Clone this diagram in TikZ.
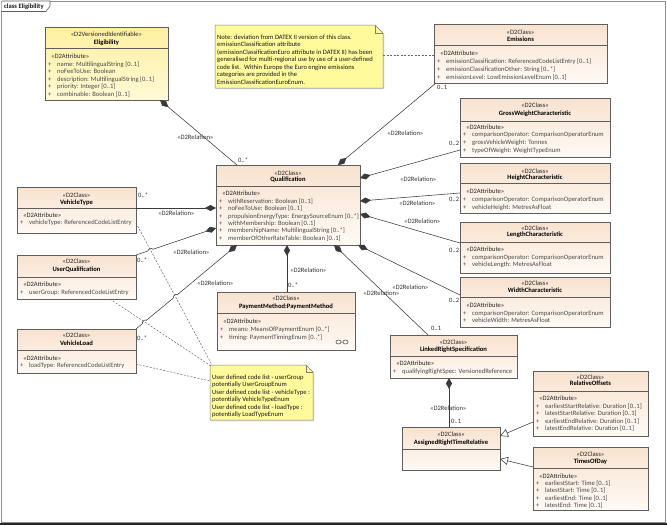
\documentclass[tikz,border=0pt]{standalone}
\usepackage{fontspec}
\setmainfont{Carlito}
\usetikzlibrary{arrows.meta,calc,shadows}
\definecolor{clsTop}{HTML}{F8E2CF}
\definecolor{clsBot}{HTML}{FFFAF5}
\definecolor{eliTop}{HTML}{FFF0A0}
\definecolor{eliBot}{HTML}{FFF9D6}
\definecolor{noteFill}{HTML}{FFFA9C}
\definecolor{bord}{HTML}{5E5E5E}
\definecolor{attrc}{HTML}{4A4A4A}
\definecolor{linec}{HTML}{3A3A3A}
\newcommand\fs{\fontsize{6.6}{7.5}\selectfont}
\tikzset{
  boxbase/.style={draw=bord, line width=0.6pt, inner sep=0pt, outer sep=0pt, anchor=north west,
     drop shadow={shadow xshift=1.3pt, shadow yshift=-1.3pt, opacity=0.22}},
  clsbox/.style={boxbase, top color=clsTop, bottom color=clsBot},
  elibox/.style={boxbase, top color=eliTop, bottom color=eliBot},
  notearea/.style={inner sep=0pt, outer sep=0pt, anchor=north west},
  notefill/.style={draw=bord!80, line width=0.5pt, fill=noteFill},
  sepst/.style={draw=bord, line width=0.5pt},
  attr/.style={anchor=base west, inner sep=0pt, font=\fs, text=attrc},
  stereo/.style={anchor=base, inner sep=0pt, font=\fs, text=black!85},
  ttl/.style={anchor=base, inner sep=0pt, font=\fs\bfseries, text=black},
  lbl/.style={anchor=base west, inner sep=0pt, font=\fs, text=black!80},
  notetext/.style={anchor=base west, inner sep=0pt, font=\fs, text=black!90},
  comp/.style={draw=linec, line width=0.55pt, -{Diamond[length=11pt,width=6pt]}},
  gen/.style={draw=linec, line width=0.55pt, -{Triangle[open,length=8pt,width=8pt,fill=white]}},
  notelink/.style={draw=black!60, line width=0.5pt, dash pattern=on 2pt off 1.5pt},
}
\newcommand\hd[5]{\node[stereo] at (#1,#2+2) {#4};\node[ttl] at (#1,#3+2) {#5};}
\newcommand\sepl[3]{\draw[sepst] (#1,#3) -- (#2,#3);}
\newcommand\ah[2]{\node[attr,text=black!85] at (#1+6,#2+2) {«D2Attribute»};}
\newcommand\al[3]{\node[attr] at (#1+3,#2+2) {+};\node[attr] at (#1+12,#2+2) {#3};}
\newcommand\rl[2]{\node[lbl] at (#1,#2+2) {«D2Relation»};}
\newcommand\ml[3]{\node[lbl] at (#1,#2+2) {#3};}
\begin{document}
\begin{tikzpicture}[x=1pt,y=-1pt]
\useasboundingbox (0,0) rectangle (667,525);
\fill[white] (0,0) rectangle (667,525);
% frame
\draw[bord!70, line width=0.8pt] (1.5,1) rectangle (665.5,522);
\draw[black!85, line width=2.5pt] (0,523.8) -- (667,523.8);
\draw[bord, line width=0.6pt, fill=white] (1.5,1) -- (50,1) -- (50,6) -- (46,11.5) -- (1.5,11.5);
\node[notetext, font=\fs\bfseries] (frametitle) at (4,8.5) {class Eligibility};

% ---------- boxes ----------
% Eligibility
\node[elibox, minimum width=123pt, minimum height=73pt] (el) at (45,27) {};
\hd{106.5}{34}{42}{«D2VersionedIdentifiable»}{Eligibility}
\sepl{45}{168}{48}
\ah{45}{56}
\al{45}{64}{name: MultilingualString [0..1]}
\al{45}{71.5}{noFeeToUse: Boolean}
\al{45}{79}{description: MultilingualString [0..1]}
\al{45}{86.5}{priority: Integer [0..1]}
\al{45}{94}{combinable: Boolean [0..1]}

% Emissions
\node[clsbox, minimum width=173pt, minimum height=59pt] (em) at (434,24) {};
\hd{520.5}{32}{39.5}{«D2Class»}{Emissions}
\sepl{434}{607}{45}
\ah{434}{53}
\al{434}{61}{emissionClassification: ReferencedCodeListEntry [0..1]}
\al{434}{69}{emissionClassificationOther: String [0..*]}
\al{434}{77}{emissionLevel: LowEmissionLevelEnum [0..1]}

% GrossWeightCharacteristic
\node[clsbox, minimum width=150pt, minimum height=59pt] (gw) at (460,98) {};
\hd{535}{105.5}{113}{«D2Class»}{GrossWeightCharacteristic}
\sepl{460}{610}{121}
\ah{460}{127}
\al{460}{134.5}{comparisonOperator: ComparisonOperatorEnum}
\al{460}{142.5}{grossVehicleWeight: Tonnes}
\al{460}{150.5}{typeOfWeight: WeightTypeEnum}

% HeightCharacteristic
\node[clsbox, minimum width=150pt, minimum height=50pt] (ht) at (460,163) {};
\hd{535}{171}{177.5}{«D2Class»}{HeightCharacteristic}
\sepl{460}{610}{183}
\ah{460}{191}
\al{460}{199}{comparisonOperator: ComparisonOperatorEnum}
\al{460}{207}{vehicleHeight: MetresAsFloat}

% LengthCharacteristic
\node[clsbox, minimum width=150pt, minimum height=51pt] (ln) at (460,222) {};
\hd{535}{228}{234.5}{«D2Class»}{LengthCharacteristic}
\sepl{460}{610}{242}
\ah{460}{249}
\al{460}{257}{comparisonOperator: ComparisonOperatorEnum}
\al{460}{264.5}{vehicleLength: MetresAsFloat}

% WidthCharacteristic
\node[clsbox, minimum width=150pt, minimum height=50pt] (wd) at (460,277) {};
\hd{535}{283}{290}{«D2Class»}{WidthCharacteristic}
\sepl{460}{610}{297}
\ah{460}{305}
\al{460}{313}{comparisonOperator: ComparisonOperatorEnum}
\al{460}{320}{vehicleWidth: MetresAsFloat}

% Qualification
\node[clsbox, minimum width=144pt, minimum height=80pt] (q) at (216,165) {};
\hd{288}{173}{179.5}{«D2Class»}{Qualification}
\sepl{216}{360}{186}
\ah{216}{193.5}
\al{216}{201}{withReservation: Boolean [0..1]}
\al{216}{208.5}{noFeeToUse: Boolean [0..1]}
\al{216}{216}{propulsionEnergyType: EnergySourceEnum [0..*]}
\al{216}{223}{withMembership: Boolean [0..1]}
\al{216}{230.5}{membershipName: MultilingualString [0..*]}
\al{216}{238}{memberOfOtherRateTable: Boolean [0..1]}

% VehicleType
\node[clsbox, minimum width=119pt, minimum height=46pt] (vt) at (17,187) {};
\hd{76.5}{195}{202}{«D2Class»}{VehicleType}
\sepl{17}{136}{208}
\ah{17}{215}
\al{17}{222}{vehicleType: ReferencedCodeListEntry}

% UserQualification
\node[clsbox, minimum width=119pt, minimum height=44pt] (uq) at (17,255) {};
\hd{76.5}{261}{269}{«D2Class»}{UserQualification}
\sepl{17}{136}{277}
\ah{17}{284}
\al{17}{292}{userGroup: ReferencedCodeListEntry}

% VehicleLoad
\node[clsbox, minimum width=119pt, minimum height=44pt] (vl) at (17,329) {};
\hd{76.5}{335}{343}{«D2Class»}{VehicleLoad}
\sepl{17}{136}{350}
\ah{17}{358}
\al{17}{365}{loadType: ReferencedCodeListEntry}

% PaymentMethod
\node[clsbox, minimum width=138pt, minimum height=58pt] (pm) at (217,292) {};
\hd{286}{298}{306}{«D2Class»}{PaymentMethod:PaymentMethod}
\sepl{217}{355}{313}
\ah{217}{321.5}
\al{217}{329}{means: MeansOfPaymentEnum [0..*]}
\al{217}{337}{timing: PaymentTimingEnum [0..*]}
\draw[linec, line width=0.5pt] (338.5,342) ellipse (2.6 and 2) (345.5,342) ellipse (2.6 and 2) (341.1,342) -- (342.9,342);

% LinkedRightSpecification
\node[clsbox, minimum width=127pt, minimum height=43pt] (lr) at (390,335) {};
\hd{453.5}{342}{349}{«D2Class»}{LinkedRightSpecification}
\sepl{390}{517}{356}
\ah{390}{363}
\al{390}{371}{qualifyingRightSpec: VersionedReference}

% AssignedRightTimeRelative
\node[clsbox, minimum width=98pt, minimum height=43pt] (ar) at (402,427) {};
\hd{451}{434}{442}{«D2Class»}{AssignedRightTimeRelative}
\sepl{402}{500}{449}

% RelativeOffsets
\node[clsbox, minimum width=115pt, minimum height=65pt] (ro) at (533,371) {};
\hd{590.5}{377}{383.5}{«D2Class»}{RelativeOffsets}
\sepl{533}{648}{391}
\ah{533}{398}
\al{533}{406}{earliestStartRelative: Duration [0..1]}
\al{533}{413.5}{latestStartRelative: Duration [0..1]}
\al{533}{421}{earliestEndRelative: Duration [0..1]}
\al{533}{428.5}{latestEndRelative: Duration [0..1]}

% TimesOfDay
\node[clsbox, minimum width=115pt, minimum height=63pt] (tod) at (533,447) {};
\hd{590.5}{454}{461}{«D2Class»}{TimesOfDay}
\sepl{533}{648}{468}
\ah{533}{476}
\al{533}{483}{earliestStart: Time [0..1]}
\al{533}{490.5}{latestStart: Time [0..1]}
\al{533}{498}{earliestEnd: Time [0..1]}
\al{533}{505}{latestEnd: Time [0..1]}

% ---------- notes ----------
\node[notearea, minimum width=168pt, minimum height=63pt] (n1) at (215,25) {};
\draw[notefill, drop shadow={shadow xshift=1.3pt, shadow yshift=-1.3pt, opacity=0.22}] (n1.north west) -- ($(n1.north east)+(-8,0)$) -- ($(n1.north east)+(0,8)$) -- (n1.south east) -- (n1.south west) -- cycle;
\draw[bord!80, line width=0.5pt] ($(n1.north east)+(-8,0)$) -- ($(n1.north east)+(-8,8)$) -- ($(n1.north east)+(0,8)$);
\node[notetext] at (217,39) {Note: deviation from DATEX II version of this class.};
\node[notetext] at (217,46.5) {emissionClassification attribute};
\node[notetext] at (217,54) {(emissionClassificationEuro attribute in DATEX II) has been};
\node[notetext] at (217,61.5) {generalised for multi-regional use by use of a user-defined};
\node[notetext] at (217,69) {code list.\ \ Within Europe the Euro engine emissions};
\node[notetext] at (217,76.5) {categories are provided in the};
\node[notetext] at (217,84) {EmissionClassificationEuroEnum.};

\node[notearea, minimum width=103pt, minimum height=55pt] (n2) at (210,365) {};
\draw[notefill, drop shadow={shadow xshift=1.3pt, shadow yshift=-1.3pt, opacity=0.22}] (n2.north west) -- ($(n2.north east)+(-7,0)$) -- ($(n2.north east)+(0,7)$) -- (n2.south east) -- (n2.south west) -- cycle;
\draw[bord!80, line width=0.5pt] ($(n2.north east)+(-7,0)$) -- ($(n2.north east)+(-7,7)$) -- ($(n2.north east)+(0,7)$);
\node[notetext] at (212,379) {User defined code list - userGroup};
\node[notetext] at (212,386.5) {potentially UserGroupEnum};
\node[notetext] at (212,394) {User defined code list - vehicleType :};
\node[notetext] at (212,401.5) {potentially VehicleTypeEnum};
\node[notetext] at (212,409) {User defined code list - loadType :};
\node[notetext] at (212,416.5) {potentially LoadTypeEnum};

% ---------- note links ----------
\draw[notelink] ($(n1.north east)+(0,30)$) -- ($(em.north west)+(0,31)$);
\coordinate (d1s) at ($(vt.north east)+(0,36)$);
\coordinate (d1e) at ($(n2.north west)+(2,0)$);
\coordinate (d2s) at ($(uq.south west)+(93,0)$);
\coordinate (d2e) at ($(n2.north west)+(1,1)$);
\draw[notelink] (d1s) -- (d1e);
\draw[notelink] (d2s) -- (d2e);
\draw[notelink] ($(vl.north east)+(0,35)$) -- ($(n2.north west)+(0,16)$);

% ---------- relations ----------
\draw[comp] ($(q.north west)+(21,0)$) -- ($(el.south west)+(115,0)$);
\draw[comp] ($(em.south west)+(2,0)$) -- ($(q.north west)+(122,0)$);
\draw[comp] ($(gw.north west)+(0,52)$) -- ($(q.north east)+(0,13)$);
\draw[comp] ($(ht.north west)+(0,30)$) -- ($(q.north east)+(0,36)$);
\draw[comp] ($(ln.north west)+(0,21)$) -- ($(q.north east)+(0,49)$);
\draw[comp] ($(wd.north west)+(0,18)$) -- ($(q.south east)+(-2,0)$);
\draw[comp] ($(lr.north west)+(38,0)$) -- ($(q.south west)+(118,0)$);
\draw[comp] ($(pm.north west)+(70,0)$) -- ($(q.south west)+(71,0)$);
\draw[comp] ($(vt.north east)+(0,21)$) -- ($(q.north west)+(0,43)$);
% UserQualification with hop
\coordinate (uqe) at (uq.north east);
\coordinate (quq) at ($(q.north west)+(0,63)$);
\coordinate (h1) at (150.5,250.1);
\draw[comp] (uqe) -- ($(h1)!2.5pt!(uqe)$) to[bend left=90] ($(h1)!2.5pt!(quq)$) -- (quq);
% VehicleLoad with hops
\coordinate (vle) at (vl.north east);
\coordinate (qvl) at ($(q.south west)+(21,0)$);
\coordinate (h2) at (144.5,321.9);
\coordinate (h3) at (175.3,296.4);
\draw[comp] (vle) -- ($(h2)!2.5pt!(vle)$) to[bend left=90] ($(h2)!2.5pt!(qvl)$) -- ($(h3)!2.5pt!(vle)$) to[bend left=90] ($(h3)!2.5pt!(qvl)$) -- (qvl);
% Linked -> Assigned
\draw[comp] ($(ar.north west)+(47,0)$) -- ($(lr.south west)+(59,0)$);
% generalisations
\draw[gen] ($(ro.north west)+(0,51)$) -- ($(ar.north east)+(0,9)$);
\draw[gen] ($(tod.north west)+(0,20)$) -- ($(ar.north east)+(0,32)$);

% ---------- labels ----------
\rl{177}{137}
\rl{158}{213}
\rl{173}{252}
\rl{197}{283}
\rl{290}{270}
\rl{363}{293}
\rl{392}{287}
\rl{387}{133}
\rl{400}{179}
\rl{399}{203}
\rl{404}{221}
\rl{430}{408}
\ml{238}{160}{0..*}
\ml{437}{87}{0..1}
\ml{449}{143}{0..2}
\ml{449}{199}{0..2}
\ml{449}{250}{0..2}
\ml{449}{300}{0..2}
\ml{138}{195}{0..*}
\ml{137}{260}{0..*}
\ml{137}{338}{0..*}
\ml{288}{285}{0..*}
\ml{431}{328}{0..1}
\ml{451}{421}{0..1}
\end{tikzpicture}
\end{document}
